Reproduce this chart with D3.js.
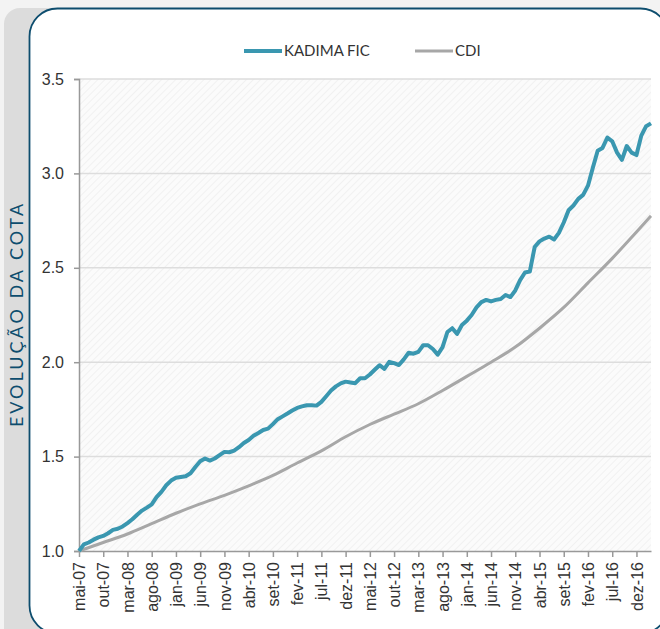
<!DOCTYPE html>
<html>
<head>
<meta charset="utf-8">
<script src="https://cdn.jsdelivr.net/npm/d3@7"></script>
<style>
  body { margin: 0; background: #f3f3f3; }
  svg { display: block; font-family: Lato, sans-serif; }
</style>
</head>
<body>
<div id="chart"></div>
<script>
// Month labels on the x axis (every 5 months starting mai-07)
const tickLabels = ["mai-07", "out-07", "mar-08", "ago-08", "jan-09", "jun-09", "nov-09", "abr-10",
  "set-10", "fev-11", "jul-11", "dez-11", "mai-12", "out-12", "mar-13", "ago-13", "jan-14",
  "jun-14", "nov-14", "abr-15", "set-15", "fev-16", "jul-16", "dez-16"];

// KADIMA FIC monthly quota, mai-07 .. mar-17
const kadima = [1.00, 1.035, 1.045, 1.06, 1.072, 1.08, 1.094, 1.112, 1.118, 1.13,
  1.148, 1.168, 1.192, 1.214, 1.23, 1.247, 1.285, 1.313, 1.348, 1.373,
  1.388, 1.392, 1.396, 1.412, 1.445, 1.475, 1.49, 1.479, 1.49, 1.508,
  1.525, 1.523, 1.532, 1.55, 1.572, 1.588, 1.61, 1.625, 1.641, 1.648,
  1.672, 1.698, 1.713, 1.728, 1.744, 1.758, 1.766, 1.772, 1.772, 1.77,
  1.79, 1.82, 1.85, 1.872, 1.888, 1.897, 1.893, 1.889, 1.915, 1.915,
  1.935, 1.96, 1.984, 1.965, 2.002, 1.995, 1.985, 2.015, 2.05, 2.045,
  2.055, 2.09, 2.09, 2.07, 2.04, 2.08, 2.16, 2.18, 2.15, 2.197,
  2.22, 2.25, 2.29, 2.318, 2.33, 2.322, 2.33, 2.335, 2.356, 2.345,
  2.38, 2.435, 2.475, 2.48, 2.61, 2.64, 2.655, 2.665, 2.65, 2.685,
  2.74, 2.805, 2.83, 2.865, 2.886, 2.935, 3.03, 3.12, 3.135, 3.19,
  3.17, 3.11, 3.072, 3.145, 3.11, 3.097, 3.2, 3.25, 3.265];

// CDI read at the tick months (month index from mai-07)
const cdiMonths = [0, 5, 10, 15, 20, 25, 30, 35, 40, 45, 50, 55, 60, 65, 70, 75, 80, 85, 90, 95, 100, 105, 110, 115, 118];
const cdiValues = [1.0, 1.045, 1.09, 1.145, 1.2, 1.25, 1.295, 1.345, 1.40, 1.466, 1.53, 1.605, 1.67,
  1.725, 1.78, 1.85, 1.925, 2.0, 2.08, 2.18, 2.29, 2.42, 2.55, 2.69, 2.775];

const yTicks = [1.0, 1.5, 2.0, 2.5, 3.0, 3.5];

const width = 660;
const height = 629;
const plot = { left: 79, right: 651, top: 79, bottom: 551 };

const svg = d3.select("#chart")
  .append("svg")
  .attr("width", width)
  .attr("height", height);

// Card background
svg.append("rect")
  .attr("x", 4).attr("y", 8)
  .attr("width", 80).attr("height", 660)
  .attr("rx", 16)
  .attr("fill", "#dcdcdc");

svg.append("rect")
  .attr("x", 29.5).attr("y", 8.5)
  .attr("width", 639).attr("height", 625)
  .attr("rx", 28)
  .attr("fill", "#fff")
  .attr("stroke", "#0d4d6e")
  .attr("stroke-width", 1.8);

// Hatched plot background
const defs = svg.append("defs");
const pattern = defs.append("pattern")
  .attr("id", "hatch")
  .attr("patternUnits", "userSpaceOnUse")
  .attr("width", 5).attr("height", 5)
  .attr("patternTransform", "rotate(45)");
pattern.append("rect").attr("width", 5).attr("height", 5).attr("fill", "#fbfbfb");
pattern.append("line")
  .attr("x1", 0).attr("y1", 0).attr("x2", 0).attr("y2", 5)
  .attr("stroke", "#f1f1f1")
  .attr("stroke-width", 2);

svg.append("rect")
  .attr("x", plot.left).attr("y", plot.top)
  .attr("width", plot.right - plot.left)
  .attr("height", plot.bottom - plot.top)
  .attr("fill", "url(#hatch)");

const xScale = d3.scaleLinear()
  .domain([0, kadima.length - 1])
  .range([plot.left, plot.right]);

const yScale = d3.scaleLinear()
  .domain([1.0, 3.5])
  .range([plot.bottom, plot.top]);

// Gridlines
svg.append("g")
  .selectAll("line")
  .data(yTicks.slice(1))
  .enter()
  .append("line")
  .attr("x1", plot.left).attr("x2", plot.right)
  .attr("y1", (d) => yScale(d)).attr("y2", (d) => yScale(d))
  .attr("stroke", "#dddddd")
  .attr("stroke-width", 1.5);

// Y axis
const yAxis = svg.append("g")
  .attr("transform", `translate(${plot.left},0)`)
  .call(d3.axisLeft(yScale).tickValues(yTicks).tickFormat(d3.format(".1f")).tickSize(5).tickPadding(10));
yAxis.select(".domain").attr("stroke", "#999").attr("stroke-width", 1.5);
yAxis.selectAll(".tick line").attr("stroke", "#999").attr("stroke-width", 1.5);
yAxis.selectAll(".tick text")
  .attr("fill", "#333")
  .style("font-size", "16px");

// X axis
const tickIdx = tickLabels.map((d, i) => i * 5);
const xAxis = svg.append("g")
  .attr("transform", `translate(0,${plot.bottom})`)
  .call(d3.axisBottom(xScale).tickValues(tickIdx).tickFormat((d, i) => tickLabels[i]).tickSize(6).tickSizeOuter(0));
xAxis.select(".domain").attr("stroke", "#999").attr("stroke-width", 1.5);
xAxis.selectAll(".tick line").attr("stroke", "#999").attr("stroke-width", 1.5);
xAxis.selectAll(".tick text")
  .attr("fill", "#333")
  .style("font-size", "16px")
  .attr("transform", "rotate(-90)")
  .attr("text-anchor", "end")
  .attr("x", -11)
  .attr("y", 0)
  .attr("dy", "0.35em");

// CDI line
svg.append("path")
  .datum(cdiMonths.map((m, i) => [m, cdiValues[i]]))
  .attr("fill", "none")
  .attr("stroke", "#a7a7a7")
  .attr("stroke-width", 3)
  .attr("d", d3.line()
    .x((d) => xScale(d[0]))
    .y((d) => yScale(d[1]))
    .curve(d3.curveMonotoneX));

// KADIMA line
svg.append("path")
  .datum(kadima)
  .attr("fill", "none")
  .attr("stroke", "#3a97b0")
  .attr("stroke-width", 4)
  .attr("stroke-linejoin", "round")
  .attr("d", d3.line()
    .x((d, i) => xScale(i))
    .y((d) => yScale(d)));

// Legend
const legend = [
  { name: "KADIMA FIC", color: "#3a97b0", width: 4, x: 244 },
  { name: "CDI", color: "#a7a7a7", width: 3, x: 415 }
];
const lg = svg.append("g")
  .selectAll("g")
  .data(legend)
  .enter()
  .append("g")
  .attr("transform", (d) => `translate(${d.x},51)`);
lg.append("line")
  .attr("x1", 0).attr("x2", 38)
  .attr("stroke", (d) => d.color)
  .attr("stroke-width", (d) => d.width);
lg.append("text")
  .attr("x", 40)
  .attr("dy", "0.35em")
  .attr("fill", "#333")
  .style("font-size", "15px")
  .text((d) => d.name);

// Y axis title
svg.append("text")
  .attr("transform", "translate(23,314) rotate(-90)")
  .attr("text-anchor", "middle")
  .attr("fill", "#0d4d6e")
  .style("font-size", "18px")
  .style("letter-spacing", "3px")
  .text("EVOLUÇÃO  DA  COTA");
</script>
</body>
</html>
